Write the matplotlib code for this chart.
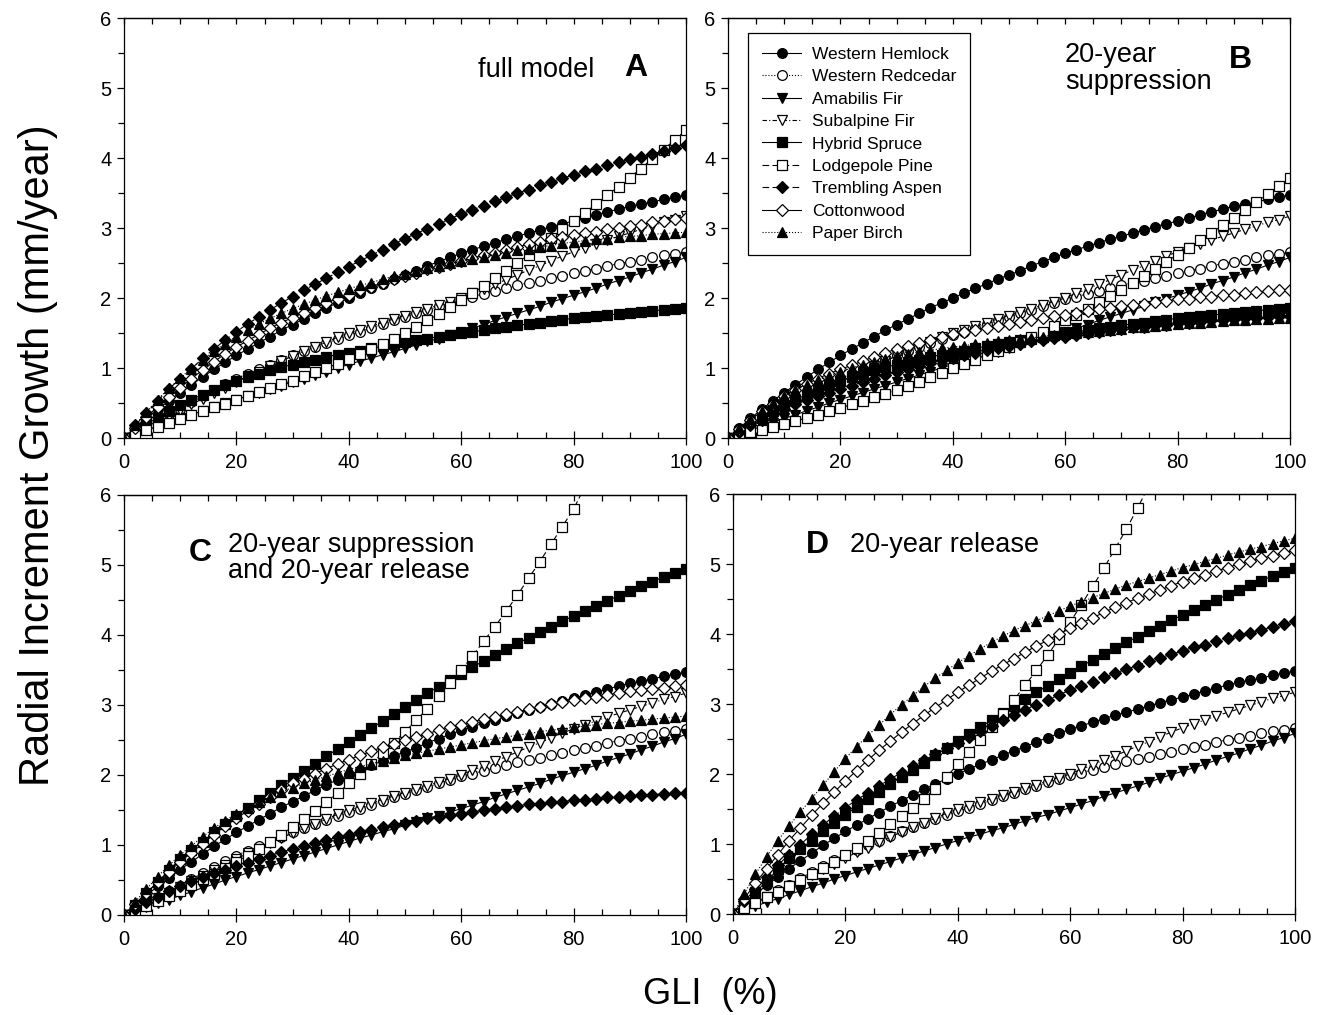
import matplotlib
matplotlib.use('Agg')
import matplotlib.pyplot as plt
from matplotlib.ticker import MultipleLocator

plt.rcParams['font.family'] = ['Liberation Sans', 'DejaVu Sans']

# GLI (%) at every 2 %
GLI = list(range(0, 101, 2))

# radial increment growth (mm/year)
WH = [0, 0.14, 0.28, 0.41, 0.53, 0.65, 0.76, 0.87, 0.98, 1.08, 1.18, 1.27, 1.36, 1.45, 1.54,
      1.62, 1.70, 1.78, 1.86, 1.93, 2.00, 2.07, 2.14, 2.20, 2.27, 2.33, 2.39, 2.46, 2.52, 2.58,
      2.64, 2.69, 2.74, 2.79, 2.84, 2.88, 2.93, 2.97, 3.02, 3.06, 3.10, 3.14, 3.19, 3.23, 3.27,
      3.31, 3.34, 3.37, 3.41, 3.44, 3.47]
WRC = [0, 0.08, 0.17, 0.25, 0.34, 0.42, 0.51, 0.60, 0.68, 0.77, 0.85, 0.92, 0.99, 1.05, 1.12,
       1.18, 1.24, 1.30, 1.36, 1.41, 1.47, 1.52, 1.57, 1.63, 1.68, 1.73, 1.78, 1.83, 1.88, 1.93,
       1.98, 2.02, 2.06, 2.10, 2.14, 2.18, 2.22, 2.25, 2.29, 2.32, 2.36, 2.39, 2.42, 2.46, 2.49,
       2.52, 2.55, 2.58, 2.61, 2.63, 2.66]
AF = [0, 0.05, 0.11, 0.17, 0.22, 0.28, 0.33, 0.39, 0.44, 0.50, 0.55, 0.60, 0.65, 0.70, 0.75,
      0.80, 0.85, 0.90, 0.95, 1.00, 1.05, 1.10, 1.14, 1.19, 1.23, 1.28, 1.33, 1.38, 1.42, 1.47,
      1.52, 1.57, 1.62, 1.68, 1.73, 1.78, 1.83, 1.88, 1.94, 1.99, 2.04, 2.09, 2.14, 2.20, 2.25,
      2.30, 2.36, 2.41, 2.47, 2.52, 2.58]
SF = [0, 0.08, 0.16, 0.24, 0.32, 0.40, 0.48, 0.56, 0.64, 0.72, 0.80, 0.88, 0.95, 1.03, 1.10,
      1.17, 1.24, 1.30, 1.37, 1.44, 1.50, 1.55, 1.60, 1.65, 1.70, 1.75, 1.80, 1.85, 1.90, 1.95,
      2.00, 2.07, 2.13, 2.20, 2.26, 2.33, 2.40, 2.46, 2.53, 2.60, 2.66, 2.72, 2.77, 2.83, 2.88,
      2.93, 2.98, 3.03, 3.08, 3.12, 3.17]
HS_AB = [0, 0.10, 0.20, 0.29, 0.38, 0.47, 0.55, 0.62, 0.69, 0.76, 0.82, 0.87, 0.92, 0.97, 1.01,
         1.05, 1.09, 1.12, 1.16, 1.19, 1.22, 1.25, 1.28, 1.31, 1.34, 1.37, 1.40, 1.42, 1.45, 1.47,
         1.50, 1.52, 1.54, 1.57, 1.59, 1.61, 1.63, 1.65, 1.67, 1.69, 1.71, 1.73, 1.74, 1.76, 1.77,
         1.79, 1.80, 1.82, 1.83, 1.85, 1.86]
HS_CD = [0, 0.15, 0.31, 0.47, 0.64, 0.80, 0.93, 1.05, 1.18, 1.30, 1.42, 1.53, 1.64, 1.75, 1.86,
         1.96, 2.06, 2.16, 2.27, 2.37, 2.47, 2.57, 2.67, 2.77, 2.87, 2.97, 3.07, 3.17, 3.26, 3.36,
         3.45, 3.54, 3.63, 3.71, 3.80, 3.88, 3.96, 4.04, 4.12, 4.20, 4.27, 4.34, 4.42, 4.49, 4.56,
         4.63, 4.70, 4.76, 4.83, 4.89, 4.95]
LP_A = [0, 0.05, 0.11, 0.16, 0.22, 0.27, 0.33, 0.38, 0.44, 0.49, 0.55, 0.60, 0.66, 0.71, 0.77,
        0.82, 0.88, 0.94, 1.00, 1.06, 1.13, 1.20, 1.27, 1.34, 1.42, 1.50, 1.59, 1.68, 1.77, 1.87,
        1.97, 2.07, 2.17, 2.28, 2.39, 2.50, 2.62, 2.74, 2.86, 2.98, 3.10, 3.22, 3.34, 3.47, 3.59,
        3.72, 3.85, 3.99, 4.12, 4.26, 4.40]
LP_B = [0, 0.04, 0.08, 0.12, 0.16, 0.20, 0.24, 0.29, 0.33, 0.38, 0.43, 0.48, 0.53, 0.58, 0.63,
        0.68, 0.74, 0.80, 0.87, 0.93, 1.00, 1.06, 1.12, 1.18, 1.24, 1.30, 1.37, 1.45, 1.52, 1.60,
        1.68, 1.76, 1.85, 1.94, 2.03, 2.12, 2.22, 2.32, 2.42, 2.52, 2.62, 2.72, 2.83, 2.93, 3.04,
        3.15, 3.26, 3.37, 3.48, 3.60, 3.71]
LP_C = [0, 0.06, 0.13, 0.20, 0.27, 0.35, 0.43, 0.51, 0.59, 0.67, 0.76, 0.85, 0.95, 1.05, 1.15,
        1.26, 1.37, 1.49, 1.61, 1.74, 1.88, 2.02, 2.16, 2.31, 2.46, 2.62, 2.78, 2.95, 3.13, 3.31,
        3.50, 3.70, 3.91, 4.12, 4.34, 4.57, 4.81, 5.05, 5.30, 5.55, 5.80, 6.12]
LP_D = [0, 0.08, 0.16, 0.24, 0.32, 0.40, 0.48, 0.57, 0.66, 0.75, 0.85, 0.95, 1.05, 1.16, 1.28,
        1.40, 1.52, 1.65, 1.79, 1.96, 2.14, 2.31, 2.49, 2.67, 2.86, 3.06, 3.27, 3.48, 3.70, 3.93,
        4.17, 4.42, 4.68, 4.94, 5.22, 5.50, 5.80, 6.12]
TA_AD = [0, 0.18, 0.36, 0.53, 0.70, 0.85, 0.99, 1.14, 1.27, 1.40, 1.52, 1.63, 1.73, 1.83, 1.93,
         2.02, 2.11, 2.20, 2.28, 2.37, 2.45, 2.53, 2.61, 2.69, 2.77, 2.85, 2.92, 2.99, 3.06, 3.13,
         3.20, 3.26, 3.32, 3.38, 3.44, 3.50, 3.55, 3.61, 3.66, 3.71, 3.76, 3.81, 3.85, 3.90, 3.94,
         3.98, 4.02, 4.06, 4.10, 4.14, 4.18]
TA_BC = [0, 0.09, 0.18, 0.26, 0.34, 0.42, 0.48, 0.54, 0.60, 0.65, 0.70, 0.75, 0.80, 0.85, 0.90,
         0.94, 0.99, 1.03, 1.07, 1.11, 1.15, 1.19, 1.22, 1.26, 1.29, 1.32, 1.35, 1.38, 1.40, 1.43,
         1.45, 1.47, 1.50, 1.52, 1.54, 1.56, 1.58, 1.59, 1.61, 1.62, 1.64, 1.65, 1.66, 1.68, 1.69,
         1.70, 1.71, 1.72, 1.73, 1.74, 1.75]
CW_A = [0, 0.15, 0.30, 0.45, 0.59, 0.72, 0.85, 0.97, 1.09, 1.20, 1.30, 1.39, 1.48, 1.57, 1.65,
        1.72, 1.79, 1.86, 1.93, 1.99, 2.05, 2.11, 2.16, 2.22, 2.27, 2.32, 2.36, 2.41, 2.45, 2.49,
        2.53, 2.57, 2.61, 2.65, 2.69, 2.73, 2.77, 2.80, 2.84, 2.87, 2.90, 2.93, 2.95, 2.98, 3.00,
        3.03, 3.05, 3.08, 3.10, 3.13, 3.15]
CW_B = [0, 0.13, 0.26, 0.38, 0.49, 0.60, 0.69, 0.77, 0.85, 0.92, 0.98, 1.04, 1.10, 1.16, 1.22,
        1.27, 1.32, 1.36, 1.40, 1.44, 1.48, 1.51, 1.54, 1.57, 1.60, 1.63, 1.66, 1.69, 1.71, 1.74,
        1.76, 1.79, 1.81, 1.84, 1.86, 1.88, 1.90, 1.92, 1.94, 1.96, 1.98, 1.99, 2.01, 2.02, 2.04,
        2.05, 2.07, 2.08, 2.10, 2.11, 2.12]
CW_C = [0, 0.16, 0.32, 0.47, 0.62, 0.76, 0.89, 1.02, 1.15, 1.27, 1.38, 1.49, 1.59, 1.69, 1.79,
        1.88, 1.95, 2.02, 2.09, 2.16, 2.22, 2.28, 2.34, 2.40, 2.45, 2.50, 2.55, 2.59, 2.64, 2.68,
        2.72, 2.76, 2.80, 2.83, 2.87, 2.90, 2.94, 2.97, 3.01, 3.04, 3.07, 3.10, 3.12, 3.15, 3.17,
        3.20, 3.22, 3.23, 3.25, 3.27, 3.28]
CW_D = [0, 0.22, 0.44, 0.65, 0.85, 1.05, 1.23, 1.41, 1.58, 1.74, 1.90, 2.05, 2.20, 2.34, 2.47,
        2.60, 2.72, 2.84, 2.95, 3.06, 3.17, 3.27, 3.37, 3.47, 3.56, 3.65, 3.74, 3.83, 3.91, 4.00,
        4.08, 4.16, 4.23, 4.31, 4.38, 4.45, 4.51, 4.57, 4.63, 4.69, 4.75, 4.80, 4.85, 4.90, 4.95,
        5.00, 5.04, 5.08, 5.12, 5.16, 5.20]
PB_A = [0, 0.19, 0.37, 0.55, 0.71, 0.86, 0.99, 1.12, 1.24, 1.35, 1.45, 1.54, 1.63, 1.71, 1.78,
        1.85, 1.91, 1.97, 2.03, 2.08, 2.13, 2.18, 2.22, 2.27, 2.31, 2.35, 2.39, 2.43, 2.46, 2.50,
        2.53, 2.56, 2.59, 2.62, 2.65, 2.68, 2.70, 2.73, 2.75, 2.78, 2.80, 2.82, 2.84, 2.85, 2.87,
        2.88, 2.89, 2.91, 2.92, 2.93, 2.94]
PB_B = [0, 0.14, 0.27, 0.39, 0.50, 0.60, 0.68, 0.76, 0.83, 0.89, 0.95, 1.00, 1.05, 1.09, 1.13,
        1.17, 1.20, 1.23, 1.25, 1.28, 1.30, 1.32, 1.34, 1.36, 1.38, 1.40, 1.42, 1.43, 1.45, 1.47,
        1.48, 1.50, 1.52, 1.53, 1.55, 1.56, 1.58, 1.59, 1.60, 1.62, 1.63, 1.64, 1.65, 1.66, 1.67,
        1.68, 1.69, 1.70, 1.70, 1.71, 1.72]
PB_C = [0, 0.19, 0.37, 0.55, 0.71, 0.86, 0.99, 1.12, 1.24, 1.35, 1.45, 1.53, 1.61, 1.69, 1.76,
        1.82, 1.88, 1.93, 1.98, 2.03, 2.08, 2.12, 2.16, 2.20, 2.24, 2.28, 2.31, 2.34, 2.37, 2.40,
        2.43, 2.46, 2.49, 2.52, 2.54, 2.57, 2.59, 2.62, 2.64, 2.66, 2.68, 2.70, 2.72, 2.74, 2.75,
        2.77, 2.78, 2.80, 2.81, 2.83, 2.84]
PB_D = [0, 0.29, 0.57, 0.82, 1.05, 1.26, 1.46, 1.65, 1.84, 2.03, 2.22, 2.39, 2.55, 2.70, 2.85,
        2.99, 3.12, 3.25, 3.37, 3.48, 3.59, 3.69, 3.79, 3.88, 3.97, 4.05, 4.12, 4.19, 4.26, 4.33,
        4.40, 4.46, 4.52, 4.58, 4.64, 4.70, 4.75, 4.80, 4.85, 4.90, 4.95, 4.99, 5.04, 5.08, 5.13,
        5.17, 5.21, 5.25, 5.29, 5.33, 5.37]

SPECIES = ['Western Hemlock', 'Western Redcedar', 'Amabilis Fir', 'Subalpine Fir',
           'Hybrid Spruce', 'Lodgepole Pine', 'Trembling Aspen', 'Cottonwood', 'Paper Birch']

PANELS = {
    'A': [WH, WRC, AF, SF, HS_AB, LP_A, TA_AD, CW_A, PB_A],
    'B': [WH, WRC, AF, SF, HS_AB, LP_B, TA_BC, CW_B, PB_B],
    'C': [WH, WRC, AF, SF, HS_CD, LP_C, TA_BC, CW_C, PB_C],
    'D': [WH, WRC, AF, SF, HS_CD, LP_D, TA_AD, CW_D, PB_D],
}

# marker, filled, marker size, line style
STYLE = [
    ('o', True, 7.0, '-'),
    ('o', False, 7.0, ':'),
    ('v', True, 7.5, '-'),
    ('v', False, 7.5, (0, (4, 2, 1, 2))),
    ('s', True, 6.5, '-'),
    ('s', False, 6.5, (0, (6, 3))),
    ('D', True, 6.0, (0, (6, 3))),
    ('D', False, 6.0, '-'),
    ('^', True, 7.5, ':'),
]

W, H = 1323, 1015
# axes boxes in pixels: left, top, right, bottom
BOXES = {
    'A': (124, 18, 686, 438),
    'B': (728, 18, 1290, 438),
    'C': (124, 495, 686, 915),
    'D': (733, 494, 1295, 914),
}

fig = plt.figure(figsize=(W / 100, H / 100), dpi=100)

axes = {}
for name, (l, t, r, b) in BOXES.items():
    ax = fig.add_axes([l / W, 1 - b / H, (r - l) / W, (b - t) / H])
    axes[name] = ax
    lines = []
    for vals, (mk, filled, ms, ls), label in zip(PANELS[name], STYLE, SPECIES):
        ln, = ax.plot(GLI[:len(vals)], vals, marker=mk, markersize=ms, linestyle=ls,
                      color='black', linewidth=0.8, markeredgecolor='black',
                      markerfacecolor='black' if filled else 'white',
                      markeredgewidth=0.9, label=label)
        lines.append(ln)
    axes[name + '_lines'] = lines

    ax.set_xlim(0, 100)
    ax.set_ylim(0, 6)
    ax.xaxis.set_major_locator(MultipleLocator(20))
    ax.xaxis.set_minor_locator(MultipleLocator(5))
    ax.yaxis.set_major_locator(MultipleLocator(1))
    ax.yaxis.set_minor_locator(MultipleLocator(0.5))
    ax.tick_params(axis='x', which='major', direction='inout', length=10, width=0.9,
                   labelsize=14.5, pad=6)
    ax.tick_params(axis='x', which='minor', direction='in', length=4, width=0.9)
    ax.tick_params(axis='y', which='major', direction='out', length=5, width=0.9,
                   labelsize=14.5, pad=4)
    ax.tick_params(axis='y', which='minor', direction='out', length=4, width=0.9)
    for sp in ax.spines.values():
        sp.set_linewidth(0.9)
    top = ax.secondary_xaxis('top')
    top.xaxis.set_major_locator(MultipleLocator(5))
    top.tick_params(axis='x', which='major', direction='in', length=4, width=0.9,
                    labeltop=False)
    top.spines['top'].set_linewidth(0.9)

# legend in panel B
axes['B'].legend(handles=axes['B_lines'], loc='upper left', bbox_to_anchor=(0.035, 0.965),
                 fontsize=12.5, frameon=True, fancybox=False, edgecolor='black',
                 framealpha=1, handlelength=2.3, handletextpad=0.6, labelspacing=0.42,
                 borderpad=0.8, borderaxespad=0)
axes['B'].get_legend().get_frame().set_linewidth(0.9)


def px(ax, x, y):
    """pixel position in the figure -> axes fraction of ax"""
    l, t, r, b = BOXES[ax]
    return (x - l) / (r - l), (b - y) / (b - t)


def note(ax, x, y, s, **kw):
    axes[ax].text(*px(ax, x, y), s, transform=axes[ax].transAxes, va='center',
                  ha='left', **kw)


note('A', 478, 70, 'full model', fontsize=19.5)
note('A', 624, 68, 'A', fontsize=23, fontweight='bold')
note('B', 1065, 68, '20-year\nsuppression', fontsize=19.5, linespacing=1.05)
note('B', 1229, 60, 'B', fontsize=23, fontweight='bold')
note('C', 189, 553, 'C', fontsize=23, fontweight='bold')
note('C', 228, 558, '20-year suppression\nand 20-year release', fontsize=19.5,
     linespacing=1.05)
note('D', 806, 545, 'D', fontsize=23, fontweight='bold')
note('D', 850, 545, '20-year release', fontsize=19.5)

fig.text(38 / W, 1 - 455 / H, 'Radial Increment Growth (mm/year)', rotation=90,
         ha='center', va='center', fontsize=30,
         family=['Liberation Sans Narrow', 'Liberation Sans'])
fig.text(710 / W, 1 - 995 / H, 'GLI  (%)', ha='center', va='center', fontsize=26)

fig.savefig('out.png', dpi=100)
